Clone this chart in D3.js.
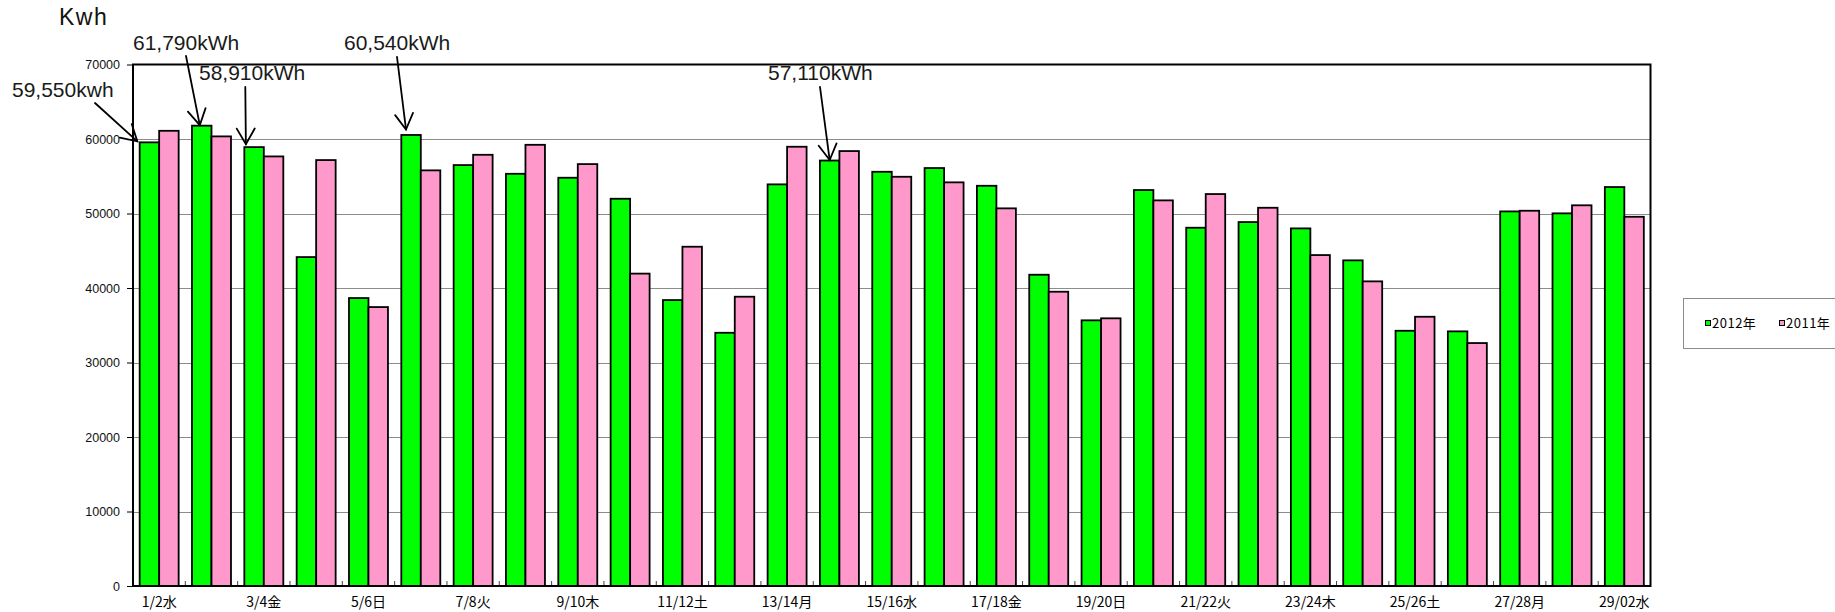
<!DOCTYPE html>
<html>
<head>
<meta charset="utf-8">
<script src="https://cdn.jsdelivr.net/npm/d3@7"></script>
<style>
  html, body { margin: 0; padding: 0; background: #fff; }
  svg { display: block; }
</style>
</head>
<body>
<svg id="chart" width="1835" height="612"></svg>
<script>
// データ（2012年2月と2011年の同曜日比較）
const categories = ["1/2水", "2/3木", "3/4金", "4/5土", "5/6日", "6/7月", "7/8火", "8/9水", "9/10木", "10/11金",
  "11/12土", "12/13日", "13/14月", "14/15火", "15/16水", "16/17木", "17/18金", "18/19土", "19/20日", "20/21月",
  "21/22火", "22/23水", "23/24木", "24/25金", "25/26土", "26/27日", "27/28月", "28/01火", "29/02水"];
const series2012 = [59550, 61790, 58910, 44150, 38650, 60540, 56500, 55330, 54800, 51980,
  38380, 33990, 53910, 57110, 55600, 56100, 53720, 41780, 35660, 53150,
  48090, 48850, 48000, 43710, 34260, 34180, 50280, 50020, 53550];
const series2011 = [61100, 60350, 57660, 57170, 37440, 55790, 57880, 59220, 56630, 41930,
  45540, 38830, 58960, 58380, 54930, 54180, 50690, 39500, 35930, 51760,
  52610, 50770, 44420, 40890, 36140, 32610, 50370, 51100, 49560];
const seriesNames = ["2012年", "2011年"];
const yTicks = [0, 10000, 20000, 30000, 40000, 50000, 60000, 70000];
const annotationDays = [0, 1, 2, 5, 13];
const annotationTexts = ["59,550kwh", "61,790kWh", "58,910kWh", "60,540kWh", "57,110kWh"];

// レイアウト
const svg = d3.select("#chart");
const plotLeft = 133, plotRight = 1650.5, plotTop = 64.5, plotBottom = 586;
const colors = ["#00ff00", "#ff99cc"];
const latin = "'Liberation Sans', Arial, sans-serif";
const jp = "'Noto Sans CJK JP', sans-serif";

// 注釈の位置（ラベル位置・矢印の始点・バー上の先端位置）
const annoLayout = [
  { lx: 12, ly: 97, sx: 95, sy: 103, fx: -0.12, dy: -1 },
  { lx: 133, ly: 50, sx: 186, sy: 56, fx: 0.4, dy: -0.5 },
  { lx: 199, ly: 80, sx: 245.3, sy: 87, fx: 0.08, dy: -3 },
  { lx: 344, ly: 50, sx: 397, sy: 57, fx: 0.24, dy: -5.5 },
  { lx: 768, ly: 80, sx: 820, sy: 87, fx: 0.5, dy: -0.5 }
];

const x = d3.scaleBand()
  .domain(categories)
  .range([plotLeft, plotRight])
  .paddingInner(0.255)
  .paddingOuter(0.1275);

const xSub = d3.scaleBand()
  .domain(seriesNames)
  .range([0, x.bandwidth()]);

const y = d3.scaleLinear()
  .domain([0, 70000])
  .range([plotBottom, plotTop]);

const rows = categories.map((c, i) => ({ cat: c, values: [series2012[i], series2011[i]] }));

// タイトル
svg.append("text")
  .attr("x", 59).attr("y", 25)
  .attr("font-family", latin)
  .attr("font-size", "23px")
  .attr("letter-spacing", "1.5px")
  .attr("fill", "#111")
  .text("Kwh");

// グリッド線
svg.append("g")
  .selectAll("line")
  .data(yTicks.filter(d => d > 0 && d < 70000))
  .join("line")
  .attr("x1", plotLeft).attr("x2", plotRight)
  .attr("y1", d => Math.round(y(d)) + 0.5)
  .attr("y2", d => Math.round(y(d)) + 0.5)
  .attr("stroke", "#8c8c8c")
  .attr("stroke-width", 1);

// Y軸
const yAxis = svg.append("g")
  .attr("transform", `translate(${plotLeft},0)`)
  .call(d3.axisLeft(y).tickValues(yTicks).tickSize(6).tickPadding(7).tickFormat(d3.format("d")));
yAxis.select(".domain").remove();
yAxis.selectAll("line").attr("stroke", "#000").attr("stroke-width", 1);
yAxis.selectAll("text")
  .attr("font-family", latin)
  .attr("font-size", "12.5px")
  .attr("fill", "#111");

// X軸ラベル（1つおき）
const xAxis = svg.append("g")
  .attr("transform", `translate(0,${plotBottom})`)
  .call(d3.axisBottom(x).tickSize(0).tickPadding(11).tickFormat((d, i) => i % 2 === 0 ? d : ""));
xAxis.select(".domain").remove();
xAxis.selectAll("text")
  .attr("font-family", jp)
  .attr("font-size", "14px")
  .attr("fill", "#000");

// カテゴリ境界の目盛り
const step = x.step();
svg.append("g")
  .selectAll("line")
  .data(d3.range(categories.length + 1))
  .join("line")
  .attr("x1", i => plotLeft + i * step)
  .attr("x2", i => plotLeft + i * step)
  .attr("y1", plotBottom - 5).attr("y2", plotBottom)
  .attr("stroke", "#444")
  .attr("stroke-width", 1);

// 棒グラフ
svg.append("g")
  .selectAll("g")
  .data(rows)
  .join("g")
  .attr("transform", d => `translate(${x(d.cat)},0)`)
  .selectAll("rect")
  .data(d => d.values.map((v, k) => ({ key: seriesNames[k], value: v, k })))
  .join("rect")
  .attr("x", d => xSub(d.key))
  .attr("y", d => y(d.value))
  .attr("width", xSub.bandwidth())
  .attr("height", d => plotBottom - y(d.value))
  .attr("fill", d => colors[d.k])
  .attr("stroke", "#000")
  .attr("stroke-width", 1.8);

// 枠線
svg.append("rect")
  .attr("x", plotLeft).attr("y", plotTop)
  .attr("width", plotRight - plotLeft).attr("height", plotBottom - plotTop)
  .attr("fill", "none")
  .attr("stroke", "#000")
  .attr("stroke-width", 2);

// 注釈（矢印）
const headLen = 18, headAngle = Math.PI / 6;
annotationDays.forEach((day, i) => {
  const a = annoLayout[i];
  const tipX = x(categories[day]) + xSub(seriesNames[0]) + a.fx * xSub.bandwidth();
  const tipY = y(series2012[day]) + a.dy;
  const ang = Math.atan2(a.sy - tipY, a.sx - tipX);
  const g = svg.append("g")
    .attr("stroke", "#000")
    .attr("stroke-width", 1.8)
    .attr("fill", "none")
    .attr("stroke-linecap", "round");
  g.append("line")
    .attr("x1", a.sx).attr("y1", a.sy)
    .attr("x2", tipX).attr("y2", tipY);
  g.append("path")
    .attr("stroke-linejoin", "miter")
    .attr("d", d3.line()([
      [tipX + headLen * Math.cos(ang - headAngle), tipY + headLen * Math.sin(ang - headAngle)],
      [tipX, tipY],
      [tipX + headLen * Math.cos(ang + headAngle), tipY + headLen * Math.sin(ang + headAngle)]
    ]));
  svg.append("text")
    .attr("x", a.lx).attr("y", a.ly)
    .attr("font-family", latin)
    .attr("font-size", "21px")
    .attr("fill", "#1a1a1a")
    .text(annotationTexts[i]);
});

// 凡例
const legend = svg.append("g").attr("transform", "translate(1683,298)");
legend.append("rect")
  .attr("x", 0.5).attr("y", 0.5)
  .attr("width", 200).attr("height", 50)
  .attr("fill", "#fff")
  .attr("stroke", "#8c8c8c")
  .attr("stroke-width", 1);
seriesNames.forEach((name, k) => {
  const lg = legend.append("g").attr("transform", `translate(${22 + k * 74},0)`);
  lg.append("rect")
    .attr("x", 0.5).attr("y", 22.5)
    .attr("width", 5).attr("height", 5)
    .attr("fill", colors[k])
    .attr("stroke", "#000")
    .attr("stroke-width", 1);
  lg.append("text")
    .attr("x", 7).attr("y", 25)
    .attr("dy", "0.35em")
    .attr("font-family", jp)
    .attr("font-size", "13px")
    .attr("letter-spacing", "0.5px")
    .attr("fill", "#000")
    .text(name);
});
</script>
</body>
</html>
